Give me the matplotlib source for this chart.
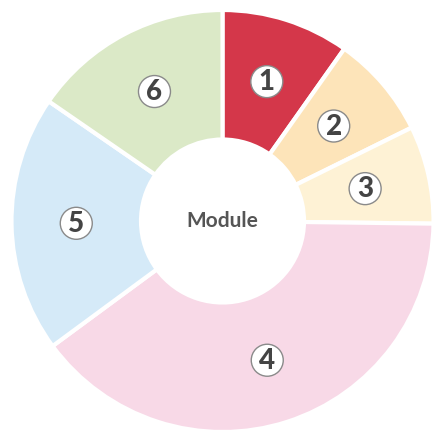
import matplotlib
matplotlib.use("Agg")
import matplotlib.pyplot as plt
from matplotlib.patches import Circle
import numpy as np

labels = ["1", "2", "3", "4", "5", "6"]
values = [9.8, 7.9, 7.5, 39.7, 19.7, 15.4]
colors = ["#d4374a", "#fde4b9", "#fef2d5", "#f8d9e7", "#d5eaf8", "#dbe9c7"]
center_text = "Module"

W, H = 433, 436
fig = plt.figure(figsize=(W / 100, H / 100), dpi=100)
R = 211
cx, cy = 222.5, 221
ax = fig.add_axes([(cx - R) / W, (H - cy - R) / H, 2 * R / W, 2 * R / H])

inner = 81.5 / R
wedges, _ = ax.pie(values, colors=colors, startangle=90, counterclock=False,
                   radius=1.0, wedgeprops=dict(width=1 - inner, edgecolor="white", linewidth=3))
ax.set_xlim(-1, 1)
ax.set_ylim(-1, 1)
ax.set_aspect("equal")
ax.axis("off")

total = sum(values)
cum = 0
rl = (1 + inner) / 2
for lab, v in zip(labels, values):
    mid = 90 - (cum + v / 2) / total * 360
    cum += v
    x, y = rl * np.cos(np.radians(mid)), rl * np.sin(np.radians(mid))
    ax.add_patch(Circle((x, y), 16 / R, facecolor="white", edgecolor="#8a8a8a", linewidth=1.0, zorder=5))
    ax.text(x, y - 0.004, lab, ha="center", va="center", fontsize=20, fontweight="black",
            color="#444444", family="Lato", zorder=6)

ax.text(0, 0, center_text, ha="center", va="center", fontsize=15, fontweight="bold",
        color="#555555", family="Lato")

fig.savefig("out.png", dpi=100)
